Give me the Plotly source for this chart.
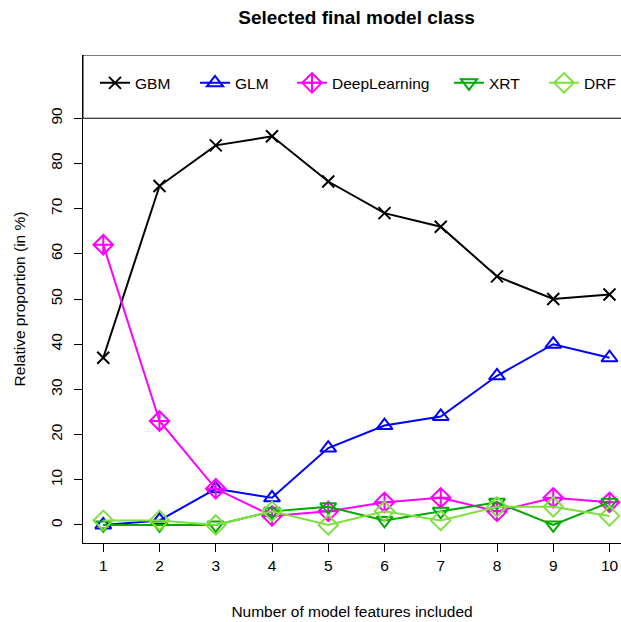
import plotly.graph_objects as go

# Share of runs (in %) in which each model class was selected as final model
n_features = [1, 2, 3, 4, 5, 6, 7, 8, 9, 10]
gbm = [37, 75, 84, 86, 76, 69, 66, 55, 50, 51]
glm = [0, 1, 8, 6, 17, 22, 24, 33, 40, 37]
deep_learning = [62, 23, 8, 2, 3, 5, 6, 3, 6, 5]
xrt = [0, 0, 0, 3, 4, 1, 3, 5, 0, 5]
drf = [1, 1, 0, 3, 0, 3, 1, 4, 4, 2]

y_ticks = [0, 10, 20, 30, 40, 50, 60, 70, 80, 90]

series = [
    ("GBM", gbm, "#000000", "x-thin-open", 12),
    ("GLM", glm, "#0000FF", "triangle-up-open", 14),
    ("DeepLearning", deep_learning, "#FF00FF", "diamond-cross-open", 15),
    ("XRT", xrt, "#00AA00", "triangle-down-open", 14),
    ("DRF", drf, "#7EE040", "diamond-open", 15),
]

FONT = "Liberation Sans, Arial, sans-serif"
FS = 15.5

# Plot-area geometry in pixels
W, H = 621, 622
L, T, B = 83, 54.7, 78.7
PLOT_W = W - L
PLOT_H = H - T - B

# Horizontal legend: one legend box per entry, placed along the top strip
legend_key_px = [112, 212, 309, 466, 561]
legend_row_px = 83

fig = go.Figure()
legends = {}
for i, ((name, values, color, symbol, size), kx) in enumerate(zip(series, legend_key_px)):
    lg = "legend" if i == 0 else f"legend{i + 1}"
    fig.add_trace(go.Scatter(
        x=n_features, y=values, name=name, mode="lines+markers",
        line=dict(color=color, width=2),
        marker=dict(symbol=symbol, size=size, color=color,
                    line=dict(color=color, width=2)),
        legend=lg,
    ))
    legends[lg] = dict(
        orientation="h", x=(kx - 17 - L) / PLOT_W, xanchor="left",
        y=(H - B - legend_row_px) / PLOT_H, yanchor="middle",
        bgcolor="rgba(0,0,0,0)", borderwidth=0, itemwidth=30,
        font=dict(size=FS, family=FONT, color="black"),
    )

fig.update_layout(
    width=W, height=H,
    margin=dict(l=L, r=0, t=T, b=B, autoexpand=False),
    paper_bgcolor="white", plot_bgcolor="white",
    font=dict(family=FONT, size=FS, color="black"),
    title=dict(text="<b>Selected final model class</b>", x=356.5 / W, xanchor="center",
               y=1 - 17 / H, yanchor="middle", font=dict(size=19)),
    showlegend=True,
    xaxis=dict(range=[0.64, 0.64 + PLOT_W / 56.25], tickvals=n_features,
               ticks="outside", ticklen=8, tickwidth=1, tickcolor="black",
               tickfont=dict(size=FS),
               showgrid=False, zeroline=False, showline=True, linecolor="black",
               linewidth=1,
               title=dict(text="Number of model features included",
                          font=dict(size=FS), standoff=33)),
    yaxis=dict(range=[-4, 104], tickvals=y_ticks, tickangle=-90,
               ticks="outside", ticklen=8, tickwidth=1, tickcolor="black",
               tickfont=dict(size=FS), ticklabelstandoff=6,
               showgrid=False, zeroline=False, showline=True, linecolor="black",
               linewidth=1,
               title=dict(text="Relative proportion (in %)", font=dict(size=FS),
                          standoff=18)),
    **legends,
)

# Legend frame across the top of the plotting region (y 90 .. 104)
fig.add_shape(type="rect", xref="paper", yref="y", x0=0, x1=1.05, y0=90, y1=104,
              line=dict(color="black", width=1), fillcolor="rgba(0,0,0,0)", layer="above")

fig.write_html("out.html")
